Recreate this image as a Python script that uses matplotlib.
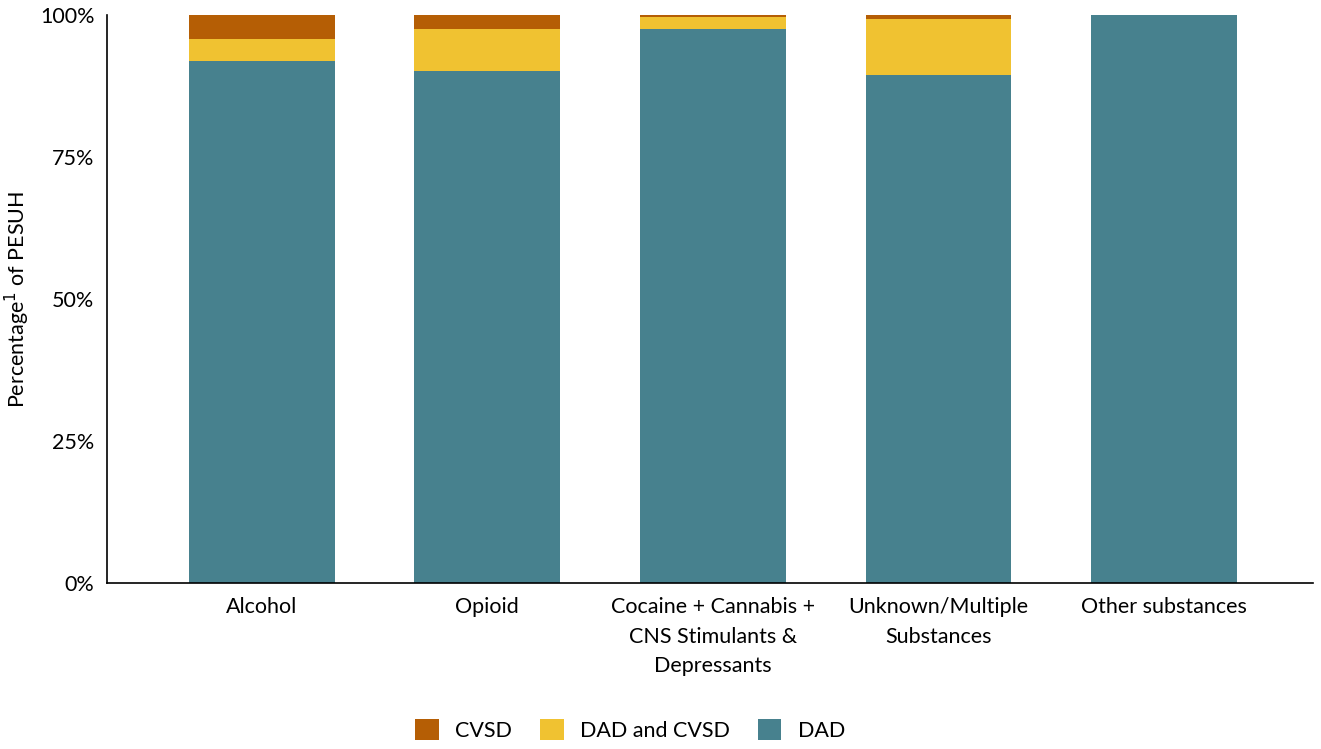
import matplotlib
matplotlib.use("Agg")
import matplotlib.pyplot as plt
import numpy as np
from matplotlib.patches import Patch

plt.rcParams["font.family"] = ["Lato", "DejaVu Sans"]

# ── Data ──────────────────────────────────────────────────────────────────────
categories = [
    "Alcohol",
    "Opioid",
    "Cocaine + Cannabis +\nCNS Stimulants &\nDepressants",
    "Unknown/Multiple\nSubstances",
    "Other substances",
]
dad = [91.9, 90.1, 97.5, 89.4, 100.0]
dad_and_cvsd = [3.9, 7.4, 2.1, 9.9, 0.0]
cvsd = [4.2, 2.5, 0.4, 0.7, 0.0]

yticks = [0, 25, 50, 75, 100]
ytick_labels = ["0%", "25%", "50%", "75%", "100%"]

C_DAD = "#47818E"
C_BOTH = "#F0C231"
C_CVSD = "#B55E05"
FS = 15.5

# ── Plot ──────────────────────────────────────────────────────────────────────
fig = plt.figure(figsize=(13.21, 7.49), dpi=100)
ax = fig.add_axes([0.081, 0.2216, 0.913, 0.7584])

x = np.arange(len(categories))
w = 0.646
dad = np.array(dad)
both = np.array(dad_and_cvsd)
cv = np.array(cvsd)

ax.bar(x, dad, w, color=C_DAD, label="DAD")
ax.bar(x, both, w, bottom=dad, color=C_BOTH, label="DAD and CVSD")
ax.bar(x, cv, w, bottom=dad + both, color=C_CVSD, label="CVSD")

ax.set_xlim(-0.686, 4.66)
ax.set_ylim(0, 100)
ax.set_yticks(yticks)
ax.set_yticklabels(ytick_labels)
ax.set_xticks(x)
ax.set_xticklabels(categories, linespacing=1.6)
ax.tick_params(axis="both", length=0, labelsize=FS, colors="black")
ax.tick_params(axis="x", pad=10)
ax.tick_params(axis="y", pad=9)

for side in ("top", "right"):
    ax.spines[side].set_visible(False)
for side in ("left", "bottom"):
    ax.spines[side].set_color("black")
    ax.spines[side].set_linewidth(1.2)

ax.set_ylabel("Percentage$^{1}$ of PESUH", fontsize=FS, labelpad=6)

handles = [
    Patch(facecolor=C_CVSD, label="CVSD"),
    Patch(facecolor=C_BOTH, label="DAD and CVSD"),
    Patch(facecolor=C_DAD, label="DAD"),
]
fig.legend(
    handles=handles,
    loc="center",
    bbox_to_anchor=(0.477, 0.025),
    ncol=3,
    frameon=False,
    fontsize=FS,
    handlelength=1.1,
    handleheight=1.1,
    handletextpad=0.75,
    columnspacing=1.3,
)

fig.savefig("out.png", dpi=100)
